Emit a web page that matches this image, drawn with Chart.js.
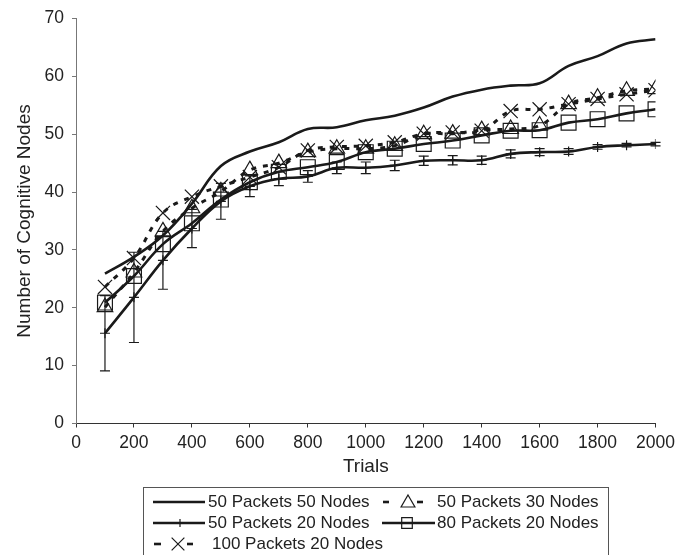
<!DOCTYPE html>
<html><head><meta charset="utf-8">
<script src="https://cdn.jsdelivr.net/npm/chart.js@4.4.0/dist/chart.umd.min.js"></script>
<style>html,body{margin:0;padding:0;background:#fff;}#wrap{width:680px;height:555px;}</style>
</head><body><div id="wrap"><canvas id="c" width="680" height="555"></canvas></div>
<script>
const trials = [100,200,300,400,500,600,700,800,900,1000,1100,1200,1300,1400,1500,1600,1700,1800,1900,2000];
const xTicks = [0,200,400,600,800,1000,1200,1400,1600,1800,2000];
const yTicks = [0,10,20,30,40,50,60,70];
const seriesNames = ['50 Packets 50 Nodes','50 Packets 20 Nodes','100 Packets 20 Nodes','50 Packets 30 Nodes','80 Packets 20 Nodes'];
const p50n50  = [25.9,28.8,32.5,38.0,44.5,47.0,48.6,50.9,51.2,52.4,53.2,54.6,56.5,57.7,58.4,58.8,61.8,63.5,65.7,66.4];
const p50n20  = [15.6,21.8,28.2,33.7,38.4,41.0,42.3,42.7,44.2,44.2,44.6,45.4,45.5,45.5,46.6,46.9,47.0,47.8,48.1,48.3];
const p100n20 = [23.6,28.6,36.4,39.2,41.0,42.6,44.3,47.2,47.8,48.0,48.6,50.1,50.3,50.6,54.0,54.3,55.2,56.1,56.9,57.6];
const p50n30  = [20.1,26.1,33.2,37.2,40.1,43.8,45.0,46.9,47.5,47.5,48.0,50.0,50.1,50.7,50.9,51.5,55.2,56.3,57.5,57.8];
const p80n20  = [20.9,25.5,31.0,34.6,38.7,41.7,43.5,44.3,45.2,46.9,47.5,48.3,48.9,49.8,50.6,50.7,52.0,52.6,53.6,54.3];
const err50n20 = [6.5,7.8,5.0,3.3,3.1,1.8,1.2,1.0,1.0,1.0,0.9,0.8,0.8,0.7,0.7,0.6,0.5,0.4,0.3,0.3];

const FONT = '"Liberation Sans", Arial, Helvetica, sans-serif';
const INK = '#1a1a1a';
Chart.defaults.font.family = FONT;
Chart.defaults.color = '#222';

const pts = arr => trials.map((t,i)=>({x:t,y:arr[i]}));

const errorBars = {
  id:'errorBars',
  afterDatasetsDraw(chart){
    const {ctx, scales:{x,y}} = chart;
    ctx.save(); ctx.strokeStyle = INK; ctx.lineWidth = 1.2;
    trials.forEach((t,i)=>{
      const e = err50n20[i]; if(!e) return;
      const px = x.getPixelForValue(t);
      const top = y.getPixelForValue(p50n20[i]+e), bot = y.getPixelForValue(p50n20[i]-e);
      ctx.beginPath();
      ctx.moveTo(px,top); ctx.lineTo(px,bot);
      ctx.moveTo(px-5,top); ctx.lineTo(px+5,top);
      ctx.moveTo(px-5,bot); ctx.lineTo(px+5,bot);
      ctx.stroke();
    });
    ctx.restore();
  }
};

function marker(ctx, style, x, y, r){
  ctx.save(); ctx.strokeStyle = INK; ctx.fillStyle = 'rgba(0,0,0,0)'; ctx.lineWidth = 1.2; ctx.setLineDash([]);
  Chart.helpers.drawPoint(ctx, {pointStyle:style, radius:r, rotation:0, borderWidth:1.2}, x, y);
  ctx.restore();
}

const customLegend = {
  id:'customLegend',
  afterDraw(chart){
    const ctx = chart.ctx;
    ctx.save();
    ctx.strokeStyle = '#555'; ctx.lineWidth = 1;
    ctx.strokeRect(143.5, 487.5, 465, 100);
    ctx.font = '17px ' + FONT; ctx.fillStyle = '#222'; ctx.textBaseline = 'middle'; ctx.textAlign = 'left';
    const rows = [502, 523, 544];
    const line = (x1,x2,y,dash)=>{ctx.save();ctx.strokeStyle=INK;ctx.lineWidth=2.6;ctx.setLineDash(dash||[]);ctx.beginPath();ctx.moveTo(x1,y);ctx.lineTo(x2,y);ctx.stroke();ctx.restore();};
    line(153,205,rows[0]); ctx.fillText(seriesNames[0], 208, rows[0]);
    line(153,205,rows[1]); marker(ctx,'cross',180,rows[1],4); ctx.fillText(seriesNames[1], 208, rows[1]);
    line(154,161,rows[2]); line(187,193,rows[2]); marker(ctx,'crossRot',178,rows[2],9); ctx.fillText(seriesNames[2], 212, rows[2]);
    line(383,389,rows[0]); line(417,423,rows[0]); marker(ctx,'triangle',408,rows[0]+1,8); ctx.fillText(seriesNames[3], 437, rows[0]);
    line(382,435,rows[1]); marker(ctx,'rect',407,rows[1],7.5); ctx.fillText(seriesNames[4], 437, rows[1]);
    ctx.restore();
  }
};

const common = {fill:false, borderColor:INK, pointBorderColor:INK, pointBackgroundColor:'rgba(0,0,0,0)', pointBorderWidth:1.2, tension:0.4};

new Chart(document.getElementById('c'), {
  type:'line',
  data:{datasets:[
    {...common, label:seriesNames[0], data:pts(p50n50), borderWidth:2.6, pointRadius:0},
    {...common, label:seriesNames[1], data:pts(p50n20), borderWidth:2.6, pointStyle:'cross', pointRadius:5},
    {...common, label:seriesNames[2], data:pts(p100n20), borderWidth:3, borderDash:[5,7], pointStyle:'crossRot', pointRadius:10},
    {...common, label:seriesNames[3], data:pts(p50n30), borderWidth:3, borderDash:[5,7], pointStyle:'triangle', pointRadius:9},
    {...common, label:seriesNames[4], data:pts(p80n20), borderWidth:2.6, pointStyle:'rect', pointRadius:10.5}
  ]},
  options:{
    responsive:false, animation:false, devicePixelRatio:1,
    layout:{padding:{top:15,right:24,bottom:69.5,left:8}},
    plugins:{legend:{display:false}, tooltip:{enabled:false}},
    scales:{
      x:{type:'linear', min:0, max:2000,
        afterBuildTicks(s){ s.ticks = xTicks.map(v=>({value:v})); },
        ticks:{padding:5, font:{size:17.5}, color:'#222', maxRotation:0, callback:v=>String(v)},
        grid:{display:true, drawOnChartArea:false, drawTicks:true, tickLength:4, color:'#333'},
        border:{display:true, color:'#333', width:1},
        title:{display:true, text:'Trials', font:{size:19}, color:'#222', padding:{top:2,bottom:7}},
        afterFit(s){ s.height = 62; }
      },
      y:{type:'linear', min:0, max:70,
        afterBuildTicks(s){ s.ticks = yTicks.map(v=>({value:v})); },
        ticks:{padding:8, font:{size:17.5}, color:'#222', callback:v=>String(v)},
        grid:{display:true, drawOnChartArea:false, drawTicks:true, tickLength:4, color:'#777'},
        border:{display:true, color:'#777', width:1},
        title:{display:true, text:'Number of Cognitive Nodes', font:{size:19}, color:'#222', padding:{top:5,bottom:0}},
        afterFit(s){ s.width = 68; }
      }
    }
  },
  plugins:[errorBars, customLegend]
});
</script></body></html>
